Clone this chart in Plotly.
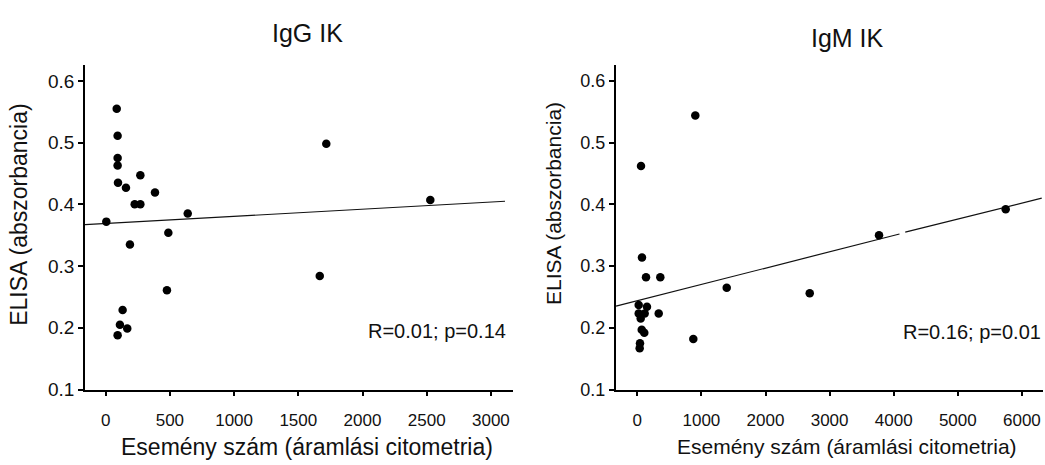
import plotly.graph_objects as go

W, H = 1045, 465

# ---- Data: IgG IK (left panel) ----
igg_x = [86, 93, 93, 93, 96, 158, 270, 226, 270, 384, 5, 639, 488, 189, 477,
         132, 111, 168, 93, 1718, 2528, 1667]
igg_y = [0.555, 0.511, 0.475, 0.463, 0.435, 0.427, 0.447, 0.400, 0.400, 0.419,
         0.372, 0.385, 0.354, 0.335, 0.261, 0.229, 0.205, 0.199, 0.188,
         0.498, 0.407, 0.284]
igg_fit_x = [-161, 3110]
igg_fit_y = [0.367, 0.405]

# ---- Data: IgM IK (right panel) ----
igm_x = [905, 58, 73, 136, 359, 1395, 2690, 22, 151, 22, 115, 334, 53, 69,
         109, 42, 37, 874, 3771, 5747]
igm_y = [0.544, 0.462, 0.314, 0.282, 0.282, 0.265, 0.256, 0.237, 0.234, 0.223,
         0.223, 0.223, 0.215, 0.197, 0.192, 0.175, 0.167, 0.182, 0.350, 0.392]
igm_fit_x = [-332, 4090, None, 4180, 6309]
igm_fit_y = [0.235, 0.352, None, 0.355, 0.410]

y_ticks = [0.1, 0.2, 0.3, 0.4, 0.5, 0.6]
y_tick_text = ["0.1", "0.2", "0.3", "0.4", "0.5", "0.6"]
igg_x_ticks = [0, 500, 1000, 1500, 2000, 2500, 3000]
igm_x_ticks = [0, 1000, 2000, 3000, 4000, 5000, 6000]

FONT = "Liberation Sans, Arial, Helvetica, sans-serif"
igg_xrange = [-161, 3172]
igm_xrange = [-337, 6329]
yrange = [0.1, 0.625]

def px(x):
    return x / W

def py(y):
    return 1 - y / H

fig = go.Figure()
fig.add_trace(go.Scatter(x=igg_fit_x, y=igg_fit_y, mode="lines",
                         line=dict(color="#111", width=1.2),
                         xaxis="x", yaxis="y", showlegend=False, hoverinfo="skip"))
fig.add_trace(go.Scatter(x=igg_x, y=igg_y, mode="markers",
                         marker=dict(color="black", size=8.5),
                         xaxis="x", yaxis="y", showlegend=False))
fig.add_trace(go.Scatter(x=igm_fit_x, y=igm_fit_y, mode="lines",
                         line=dict(color="#111", width=1.2), connectgaps=False,
                         xaxis="x2", yaxis="y2", showlegend=False, hoverinfo="skip"))
fig.add_trace(go.Scatter(x=igm_x, y=igm_y, mode="markers",
                         marker=dict(color="black", size=8.5),
                         xaxis="x2", yaxis="y2", showlegend=False))
# invisible traces so the label-only overlay axes are drawn
fig.add_trace(go.Scatter(x=[igg_x[0]], y=[igg_y[0]], mode="markers", opacity=0,
                         xaxis="x3", yaxis="y", showlegend=False, hoverinfo="skip"))
fig.add_trace(go.Scatter(x=[igm_x[0]], y=[igm_y[0]], mode="markers", opacity=0,
                         xaxis="x4", yaxis="y2", showlegend=False, hoverinfo="skip"))

axis_common = dict(showline=True, linecolor="black", linewidth=1.5,
                   ticks="outside", ticklen=5, tickwidth=1.5, tickcolor="black",
                   showgrid=False, zeroline=False, mirror=False)
label_axis = dict(showline=False, ticks="outside", ticklen=15, tickwidth=1,
                  tickcolor="rgba(0,0,0,0)", showgrid=False, zeroline=False,
                  side="bottom", tickfont=dict(size=17, family=FONT, color="#111"))

fig.update_layout(
    width=W, height=H,
    margin=dict(l=0, r=0, t=0, b=0),
    paper_bgcolor="white", plot_bgcolor="white",
    font=dict(family=FONT, color="#111"),
    xaxis=dict(domain=[px(85), px(513)], range=igg_xrange,
               tickvals=igg_x_ticks, showticklabels=False,
               anchor="y", **axis_common),
    yaxis=dict(domain=[py(399), py(67)], range=yrange,
               tickvals=y_ticks, ticktext=y_tick_text,
               tickfont=dict(size=19, family=FONT),
               anchor="x", **axis_common),
    xaxis2=dict(domain=[px(615.7), px(1043)], range=igm_xrange,
                tickvals=igm_x_ticks, showticklabels=False,
                anchor="y2", **axis_common),
    yaxis2=dict(domain=[py(399), py(67)], range=yrange,
                tickvals=y_ticks, ticktext=y_tick_text,
                tickfont=dict(size=18, family=FONT),
                anchor="x2", **axis_common),
    xaxis3=dict(overlaying="x", anchor="y", range=igg_xrange,
                tickvals=igg_x_ticks, **label_axis),
    xaxis4=dict(overlaying="x2", anchor="y2", range=igm_xrange,
                tickvals=igm_x_ticks, **label_axis),
)

ann = []
def add_text(text, x, y, size, xanchor="center", angle=0):
    ann.append(dict(text=text, x=px(x), y=py(y), xref="paper", yref="paper",
                    xanchor=xanchor, yanchor="middle", showarrow=False,
                    textangle=angle, font=dict(size=size, family=FONT, color="#111")))

add_text("IgG IK", 307, 34, 25)
add_text("IgM IK", 847, 39, 25)
add_text("Esemény szám (áramlási citometria)", 307, 458, 23)
add_text("Esemény szám (áramlási citometria)", 847, 457, 21)
add_text("ELISA (abszorbancia)", 19, 220, 23, angle=-90)
add_text("ELISA (abszorbancia)", 553, 209, 21, angle=-90)
add_text("R=0.01; p=0.14", 508, 339, 20, xanchor="right")
add_text("R=0.16; p=0.01", 1043, 340, 20, xanchor="right")
fig.update_layout(annotations=ann)

fig.write_html("out.html")
